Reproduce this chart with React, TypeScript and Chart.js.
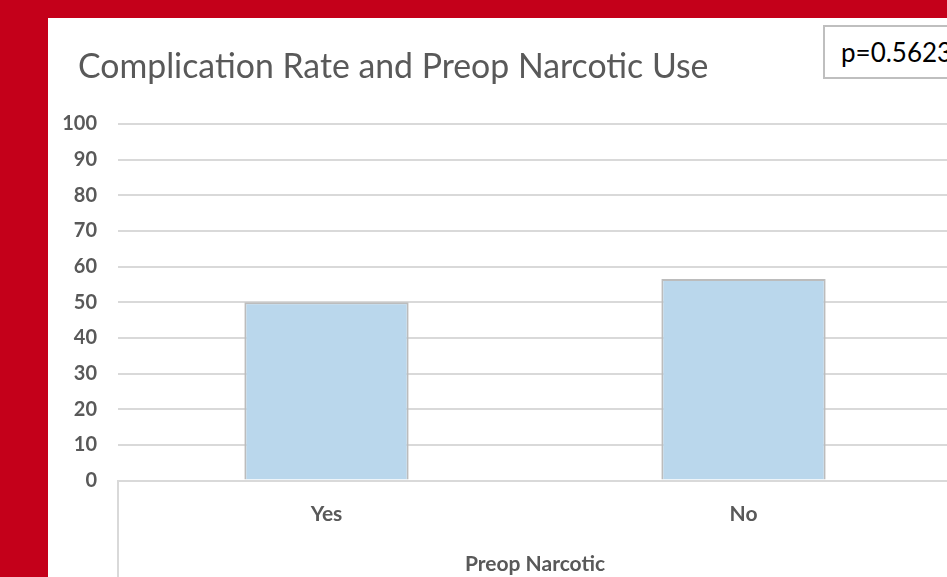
import React, { useEffect, useRef } from "react";
import { Chart, registerables } from "chart.js";

Chart.register(...registerables);

// Chart content
const chartTitle = "Complication Rate and Preop Narcotic Use";
const xAxisTitle = "Preop Narcotic";
const categories = ["Yes", "No"];
const complicationRate = [50, 56.5];
const pValueLabel = "p=0.5623";
const yMin = 0;
const yMax = 100;
const yStep = 10;

const FONT = "Lato, Calibri, 'Liberation Sans', sans-serif";
const TEXT_GRAY = "#595959";
const GRID_GRAY = "#d9d9d9";

// Left boundary line of the category label block, running below the axis
const categoryBoxLine = {
  id: "categoryBoxLine",
  afterDraw(chart: any) {
    const x = chart.scales.x;
    const ctx = chart.ctx;
    ctx.save();
    ctx.strokeStyle = GRID_GRAY;
    ctx.lineWidth = 2;
    ctx.beginPath();
    ctx.moveTo(x.left, chart.chartArea.bottom);
    ctx.lineTo(x.left, chart.height);
    ctx.stroke();
    ctx.restore();
  },
};

export default function App() {
  const canvasRef = useRef<HTMLCanvasElement | null>(null);

  useEffect(() => {
    const canvas = canvasRef.current;
    if (!canvas) return;
    const chart = new Chart(canvas, {
      type: "bar",
      data: {
        labels: categories,
        datasets: [
          {
            label: "Complication Rate",
            data: complicationRate,
            backgroundColor: "#bad7ec",
            borderColor: "#bcbcbc",
            borderWidth: 2,
            categoryPercentage: 1,
            barPercentage: 0.394,
          },
        ],
      },
      options: {
        responsive: false,
        animation: false,
        devicePixelRatio: 1,
        layout: { padding: { left: 0, right: 0, top: 106, bottom: 41 } },
        plugins: {
          legend: { display: false },
          tooltip: { enabled: false },
        },
        scales: {
          x: {
            grid: { display: false, drawTicks: false },
            border: { display: true, color: GRID_GRAY, width: 2 },
            ticks: {
              color: TEXT_GRAY,
              font: { family: FONT, size: 21, weight: "bold" },
              padding: 21,
            },
            title: {
              display: true,
              text: xAxisTitle,
              color: TEXT_GRAY,
              font: { family: FONT, size: 21, weight: "bold" },
              padding: { top: 4, bottom: 0 },
            },
          },
          y: {
            min: yMin,
            max: yMax,
            afterFit: (scale: any) => {
              scale.width = 70;
            },
            grid: { color: GRID_GRAY, lineWidth: 2, drawTicks: false },
            border: { display: false },
            ticks: {
              stepSize: yStep,
              color: TEXT_GRAY,
              font: { family: FONT, size: 20, weight: "bold" },
              padding: 21,
            },
          },
        },
      },
      plugins: [categoryBoxLine],
    });
    return () => chart.destroy();
  }, []);

  return (
    <div
      style={{
        position: "fixed",
        left: 0,
        top: 0,
        width: 947,
        height: 577,
        background: "#c4001a",
        overflow: "hidden",
      }}
    >
      <div
        style={{
          position: "absolute",
          left: 48,
          top: 18,
          width: 899,
          height: 559,
          background: "#ffffff",
          overflow: "hidden",
        }}
      >
        <canvas
          ref={canvasRef}
          width={904}
          height={600}
          style={{ display: "block", width: 904, height: 600 }}
        />
        <div
          style={{
            position: "absolute",
            left: 30,
            top: 27,
            fontFamily: FONT,
            fontSize: 33.8,
            lineHeight: "40px",
            color: TEXT_GRAY,
            whiteSpace: "nowrap",
          }}
        >
          {chartTitle}
        </div>
      </div>
      <div
        style={{
          position: "absolute",
          left: 823,
          top: 25,
          width: 160,
          height: 54,
          boxSizing: "border-box",
          border: "2px solid #bfbfbf",
          background: "#ffffff",
          color: "#000000",
          fontFamily: FONT,
          fontSize: 26,
          lineHeight: "50px",
          paddingLeft: 16,
          whiteSpace: "nowrap",
        }}
      >
        {pValueLabel}
      </div>
    </div>
  );
}
